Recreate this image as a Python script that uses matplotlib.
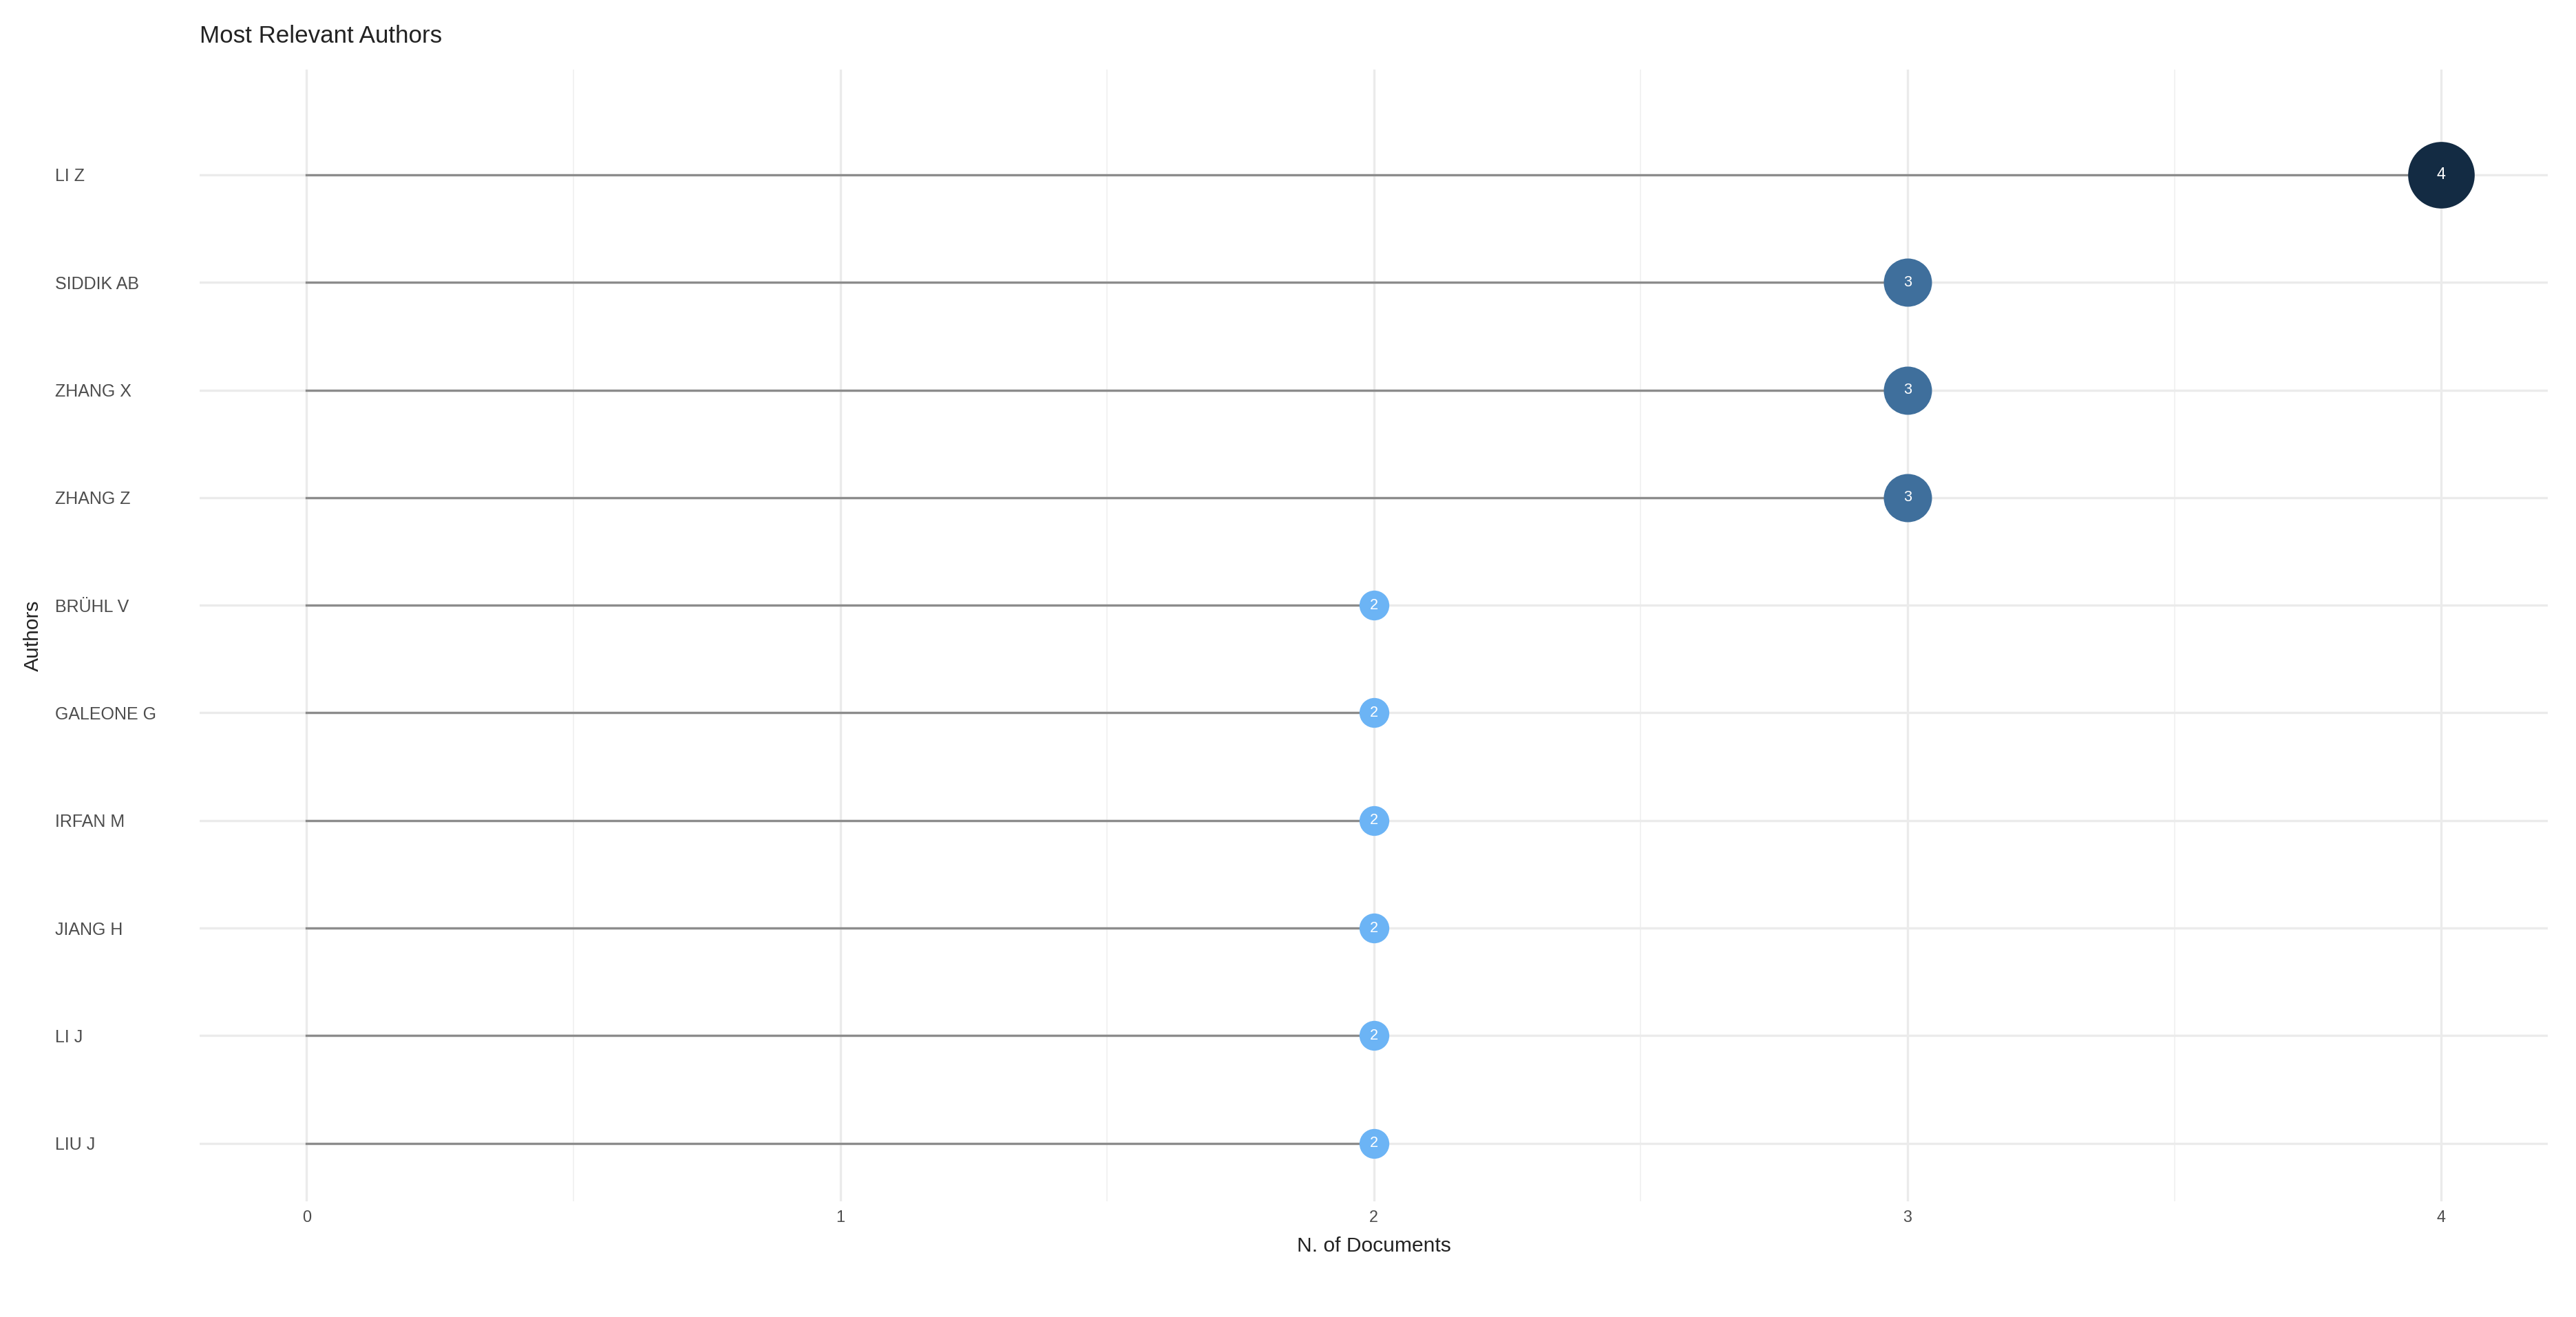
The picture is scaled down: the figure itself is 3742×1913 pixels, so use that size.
import numpy as np
import matplotlib.pyplot as plt
from matplotlib.colors import LinearSegmentedColormap

authors = ['LI Z', 'SIDDIK AB', 'ZHANG X', 'ZHANG Z', 'BRÜHL V',
           'GALEONE G', 'IRFAN M', 'JIANG H', 'LI J', 'LIU J']
docs = [4, 3, 3, 3, 2, 2, 2, 2, 2, 2]

plt.rcParams['font.family'] = ['Liberation Sans', 'DejaVu Sans']

fig = plt.figure(figsize=(3742 / 240, 1913 / 240), dpi=240)
ax = fig.add_axes([121 / 1560, 1 - 727 / 797, (1543 - 121) / 1560, (727 - 42) / 797])

n = len(authors)
ypos = np.arange(n)[::-1] + 1  # first author on top
cmap = LinearSegmentedColormap.from_list('gg', ['#6cb4f5', '#132B43'])
vals = np.array(docs, dtype=float)
norm = (vals - vals.min()) / (vals.max() - vals.min())
sizes = {2: 13, 3: 21, 4: 29}

for y, v, c in zip(ypos, docs, norm):
    ax.plot([0, v], [y, y], color='#8c8c8c', lw=1.0, zorder=2)
    ax.plot(v, y, 'o', ms=sizes[v], color=cmap(c), mec='none', zorder=3)
    ax.text(v, y, str(v), color='white', ha='center', va='center',
            fontsize=6.5 if v < 4 else 7, zorder=4)

ax.set_xlim(-0.2, 4.2)
ax.set_ylim(0.46, 10.98)
ax.set_yticks(ypos)
ax.set_yticklabels(authors, ha='left', fontsize=7.5, color='#4d4d4d')
ax.tick_params(axis='y', pad=63, length=0)
ax.set_xticks([0, 1, 2, 3, 4])
ax.set_xticks([0.5, 1.5, 2.5, 3.5], minor=True)
ax.tick_params(axis='x', labelsize=7, colors='#4d4d4d', length=0, which='both')
ax.grid(True, which='major', color='#ebebeb', lw=1.0)
ax.grid(True, which='minor', axis='x', color='#f2f2f2', lw=0.6)
ax.set_axisbelow(True)
for s in ax.spines.values():
    s.set_visible(False)

ax.set_xlabel('N. of Documents', fontsize=9, color='#222222', labelpad=5)
ax.set_ylabel('Authors', fontsize=9, color='#222222')
ax.yaxis.set_label_coords(-0.067, 0.5)
fig.text(121 / 1560, 1 - 22 / 797, 'Most Relevant Authors', fontsize=10.5,
         color='#222222', va='center')

fig.savefig('out.png', dpi=240)
